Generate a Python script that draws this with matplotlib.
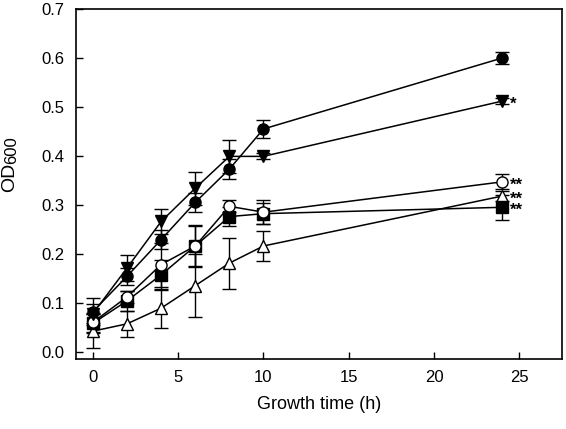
import matplotlib
matplotlib.use("Agg")
import matplotlib.pyplot as plt

plt.rcParams["font.family"] = ["Liberation Sans", "DejaVu Sans"]

# growth time (h)
t = [0, 2, 4, 6, 8, 10, 24]

# OD600 per strain (mean, error)
od_fcirc = [0.082, 0.154, 0.229, 0.305, 0.373, 0.455, 0.600]
er_fcirc = [0.028, 0.018, 0.020, 0.020, 0.020, 0.019, 0.013]
od_ftri = [0.078, 0.171, 0.266, 0.334, 0.399, 0.399, 0.512]
er_ftri = [0.020, 0.027, 0.025, 0.034, 0.033, 0.006, 0.006]
od_ocirc = [0.060, 0.112, 0.178, 0.216, 0.297, 0.285, 0.347]
er_ocirc = [0.020, 0.012, 0.045, 0.042, 0.012, 0.025, 0.015]
od_fsq = [0.058, 0.104, 0.157, 0.216, 0.276, 0.282, 0.295]
er_fsq = [0.020, 0.020, 0.030, 0.040, 0.020, 0.022, 0.025]
od_otri = [0.042, 0.057, 0.089, 0.135, 0.181, 0.216, 0.318]
er_otri = [0.035, 0.026, 0.040, 0.065, 0.052, 0.030, 0.010]

# (values, errors, marker, face colour, significance mark)
series = [
    (od_otri, er_otri, "^", "white", "**"),
    (od_fsq, er_fsq, "s", "black", "**"),
    (od_ocirc, er_ocirc, "o", "white", "**"),
    (od_fcirc, er_fcirc, "o", "black", ""),
    (od_ftri, er_ftri, "v", "black", "*"),
]

fig = plt.figure(figsize=(5.66, 4.29), dpi=100)
ax = fig.add_axes([0.134, 0.163, 0.859, 0.816])

for y, e, m, fc, star in series:
    ms = 9 if m in ("v", "^") else 8
    ax.errorbar(t, y, yerr=e, fmt="-", color="black", lw=1.1,
                marker=m, markersize=ms, markerfacecolor=fc,
                markeredgecolor="black", markeredgewidth=1.0,
                ecolor="black", elinewidth=1.0, capsize=5, capthick=1.0)
    if star:
        ax.text(24.45, y[-1] - 0.007, star, fontsize=12,
                fontweight="bold", va="center", ha="left")

ax.set_xlim(-1, 27.5)
ax.set_ylim(-0.015, 0.7)
ax.set_xticks([0, 5, 10, 15, 20, 25])
ax.set_yticks([0.0, 0.1, 0.2, 0.3, 0.4, 0.5, 0.6, 0.7])
ax.set_yticklabels([f"{v:.1f}" for v in ax.get_yticks()])
ax.tick_params(direction="in", length=5, width=1.0, labelsize=12, pad=8)
for s in ax.spines.values():
    s.set_linewidth(1.2)

ax.set_xlabel("Growth time (h)", fontsize=13, labelpad=8)
# y label: "OD" with a lowered, slightly smaller "600"
fig.text(0.017, 0.552, "OD", rotation=90, fontsize=14, ha="center", va="bottom")
fig.text(0.021, 0.618, "600", rotation=90, fontsize=12, ha="center", va="bottom")

fig.savefig("out.png", dpi=100)
